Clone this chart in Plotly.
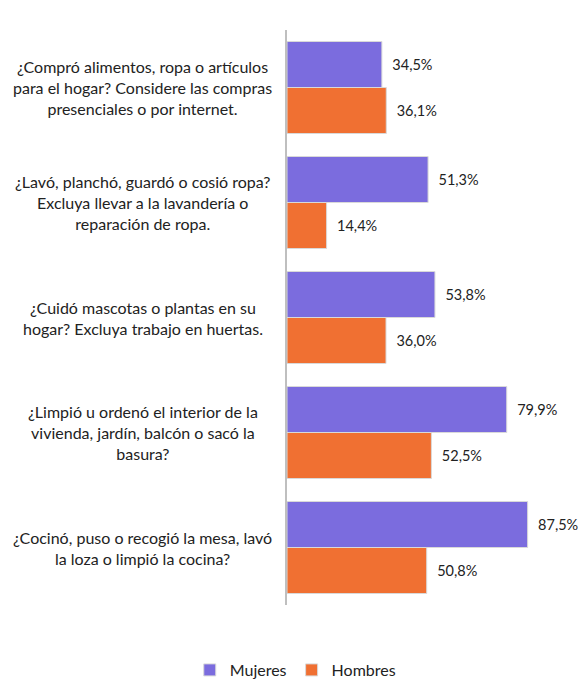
import plotly.graph_objects as go

categories = [
    "¿Compró alimentos, ropa o artículos<br>para el hogar? Considere las compras<br>presenciales o por internet.",
    "¿Lavó, planchó, guardó o cosió ropa?<br>Excluya llevar a la lavandería o<br>reparación de ropa.",
    "¿Cuidó mascotas o plantas en su<br>hogar? Excluya trabajo en huertas.",
    "¿Limpió u ordenó el interior de la<br>vivienda, jardín, balcón o sacó la<br>basura?",
    "¿Cocinó, puso o recogió la mesa, lavó<br>la loza o limpió la cocina?",
]
mujeres = [34.5, 51.3, 53.8, 79.9, 87.5]
hombres = [36.1, 14.4, 36.0, 52.5, 50.8]
series_names = ["Mujeres", "Hombres"]
colors = ["#7B6CDE", "#F07032"]

FONT = "Lato, Open Sans, sans-serif"

def fmt(v):
    return "  " + f"{v:.1f}".replace(".", ",") + "%"

fig = go.Figure()
for name, vals, col in zip(series_names, [mujeres, hombres], colors):
    fig.add_trace(go.Bar(
        y=categories, x=vals, name=name, orientation="h",
        marker=dict(color=col, line=dict(color="#d9d9d9", width=1)),
        text=[fmt(v) for v in vals], textposition="outside",
        textfont=dict(size=14.5, color="#222222", family=FONT),
        cliponaxis=False,
    ))

for c in categories:
    fig.add_annotation(
        x=-0.524, xref="paper", y=c, yref="y", text=c, showarrow=False,
        align="center", xanchor="center", yanchor="middle",
        font=dict(size=16, color="#222222", family=FONT),
    )

fig.update_layout(
    width=578, height=687,
    margin=dict(l=287, r=16, t=30, b=0),
    paper_bgcolor="white", plot_bgcolor="white",
    barmode="group", bargap=0.2, bargroupgap=0,
    font=dict(family=FONT, size=14, color="#222222"),
    xaxis=dict(range=[0, 100], showgrid=False, showticklabels=False,
               zeroline=False, showline=False, ticks=""),
    yaxis=dict(autorange="reversed", showticklabels=False, ticks="",
               domain=[0.1248, 1],
               showline=True, linecolor="#bfbfbf", linewidth=2, showgrid=False),
    legend=dict(orientation="h", x=0.03, xanchor="center", y=0.0, yanchor="bottom",
                font=dict(size=16, family=FONT), itemwidth=30, traceorder="normal"),
    showlegend=True,
)

fig.write_html("out.html", config={"displayModeBar": False},
               post_script="document.body.style.margin='0';")
